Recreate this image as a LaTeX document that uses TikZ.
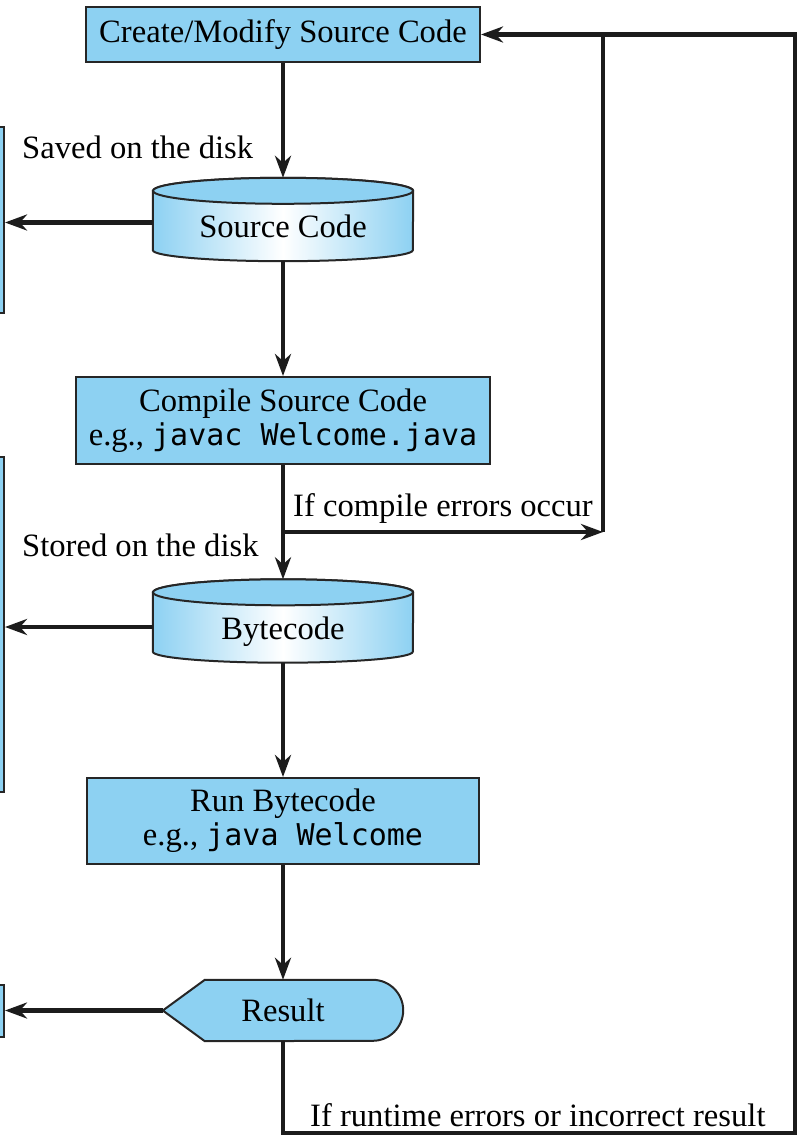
\documentclass[tikz,border=0pt]{standalone}
\usepackage{fontspec}
\setmainfont{Liberation Serif}
\setmonofont[Scale=0.92]{DejaVu Sans Mono}
\usetikzlibrary{arrows.meta, backgrounds}
\definecolor{boxblue}{HTML}{8DD1F2}
\definecolor{boxline}{HTML}{262626}
\definecolor{flowline}{HTML}{1C1C1C}

\begin{document}
\begin{tikzpicture}[x=1pt, y=1pt, font=\fontsize{32.6}{34}\selectfont,
    main/.style = {draw=boxline, fill=boxblue, line width=2pt, align=center, inner sep=0pt},
    disk/.style = {minimum width=260pt, minimum height=83pt, inner sep=0pt, text height=36pt, text depth=0pt},
    result/.style = {minimum width=240pt, minimum height=61pt, inner sep=0pt},
    shell/.style = {draw=boxline, line width=2pt},
    note/.style = {anchor=west, inner sep=0pt},
    flow/.style = {draw=flowline, line width=4.5pt, -{Stealth[length=22pt, width=16pt, inset=7pt]}}]
      \useasboundingbox (0,0) rectangle (798,-1139);
      \clip (0,0) rectangle (798,-1139);

      \node[main, minimum width=394pt, minimum height=55pt] (1) at (283,-34.5)  {Create/Modify Source Code};
      \node[disk] (2) at (283,-219.5) {Source Code};
      \node[main, minimum width=414pt, minimum height=87pt] (3) at (283,-420.5) {Compile Source Code\\e.g., \texttt{javac Welcome.java}};
      \node[disk] (4) at (283,-621)   {Bytecode};
      \node[main, minimum width=392pt, minimum height=86pt] (5) at (283,-821)   {Run Bytecode\\e.g., \texttt{java Welcome}};
      \node[result] (6) at (283,-1010.5) {Result};

      \node[main, anchor=east, minimum width=60pt, minimum height=186pt] (7) at (5,-220)    {};
      \node[main, anchor=east, minimum width=60pt, minimum height=335pt] (8) at (5,-624.5)  {};
      \node[main, anchor=east, minimum width=60pt, minimum height=52pt]  (9) at (5,-1011)   {};

      \node[note] (10) at (22,-147)   {Saved on the disk};
      \node[note] (11) at (22,-545)   {Stored on the disk};
      \node[note] (12) at (293,-508)  {If compile errors occur};
      \node[note] (13) at (310,-1115) {If runtime errors or incorrect result};

      \coordinate (a) at (603,-532);
      \coordinate (b) at (795,-1133);

      % disks and the result shape behind their texts
      \begin{scope}[on background layer]
        \foreach \d in {2,4} {
          \shadedraw[shell, left color=boxblue, right color=boxblue, middle color=white]
            ([yshift=-13pt]\d.north west) -- ([yshift=11pt]\d.south west)
            arc[start angle=180, end angle=360, x radius=130, y radius=11]
            -- ([yshift=-13pt]\d.north east)
            arc[start angle=0, end angle=180, x radius=130, y radius=13] -- cycle;
          \filldraw[shell, fill=boxblue] ([yshift=-13pt]\d.north) ellipse [x radius=130, y radius=13];
        }
        \filldraw[shell, fill=boxblue] (6.west) -- ([xshift=42pt]6.north west)
          -- ([xshift=-30.5pt]6.north east) arc[start angle=90, end angle=-90, radius=30.5]
          -- ([xshift=42pt]6.south west) -- cycle;
      \end{scope}

      \path[flow]
      (1)  edge  (2)
      (2)  edge  (3)
      (3)  edge  (4)
      (4)  edge  (5)
      (5)  edge  (6);

      \draw[flow] ([yshift=-3pt]2.west) -- ([yshift=-3pt]2.west -| 7.east);
      \draw[flow] ([yshift=-6pt]4.west) -- ([yshift=-6pt]4.west -| 8.east);
      \draw[flow] (6.west) -- (6.west -| 9.east);

      % going back on errors
      \draw[flow] (3.south |- a) -- (a);
      \draw[flow, -] (a) -- (a |- 1.east);
      \draw[flow] (6.south) |- (b) |- (1.east);

    \end{tikzpicture}
\end{document}
